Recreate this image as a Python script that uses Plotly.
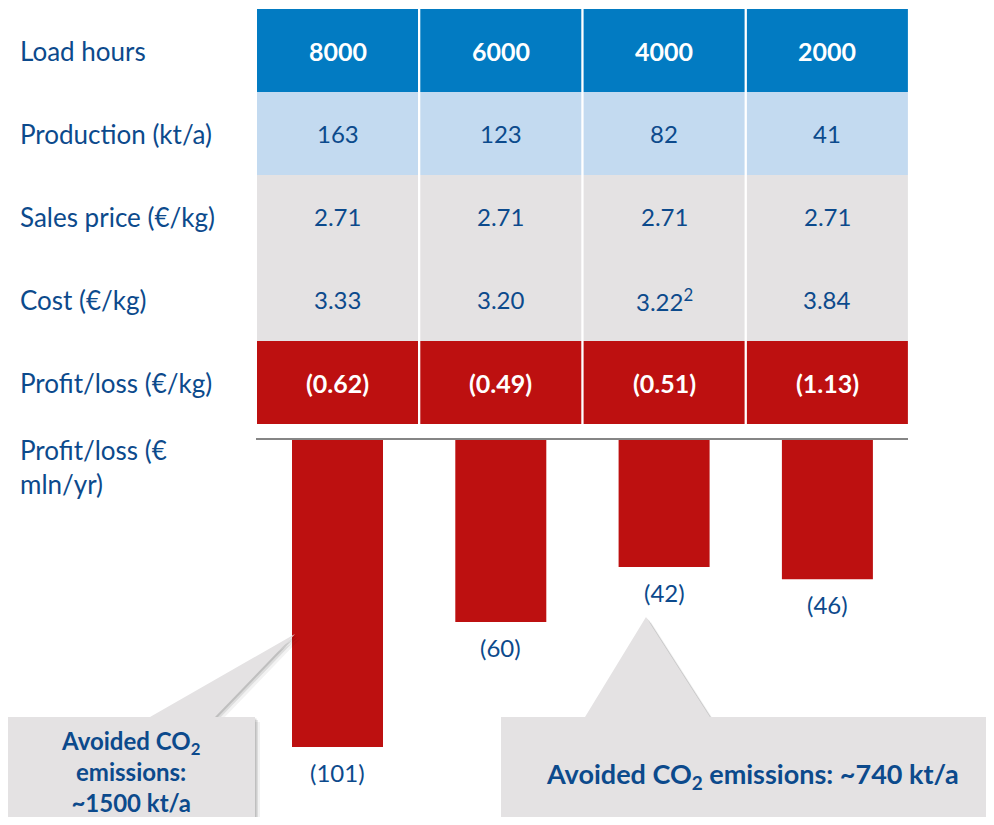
import plotly.graph_objects as go

# ---- data ----
load_hours = ["8000", "6000", "4000", "2000"]
production = ["163", "123", "82", "41"]
sales_price = ["2.71", "2.71", "2.71", "2.71"]
cost = ["3.33", "3.20", "3.22<sup>2</sup>", "3.84"]
profit_kg = ["(0.62)", "(0.49)", "(0.51)", "(1.13)"]
profit_mln = [-101, -60, -42, -46]
profit_mln_labels = ["(101)", "(60)", "(42)", "(46)"]
row_labels = ["Load hours", "Production (kt/a)", "Sales price (€/kg)", "Cost (€/kg)",
              "Profit/loss (€/kg)", "Profit/loss (€<br>mln/yr)"]
callout_left = "Avoided CO<sub>2</sub><br>emissions:<br>~1500 kt/a"
callout_right = "Avoided CO<sub>2</sub> emissions: ~740 kt/a"

# page geometry: the figure sits at the body's default 8px margin
OFF = 8
VW, VH = 994, 825
W, H = VW - 2 * OFF, VH - 2 * OFF
FONT = "Lato"
DARK = "#0C4A8C"
BLUE = "#027BC2"
LIGHT = "#C3DAF0"
GRAY = "#E4E2E3"
RED = "#BD1010"

def px(x):
    return (x - OFF) / W

def py(y):
    return 1 - (y - OFF) / H

# axes geometry (screen pixel mapping)
pitch = 163.3
c0 = 337.5
x0 = -(c0 - OFF) / pitch
x1 = x0 + W / pitch
ppu = 3.05
base = 439
y1 = (base - OFF) / ppu
y0 = -(OFF + H - base) / ppu

fig = go.Figure()
fig.add_trace(go.Bar(
    x=list(range(len(profit_mln))), y=profit_mln, width=91 / pitch,
    marker=dict(color=RED, line=dict(width=0)), hoverinfo="skip"))

shapes = []
annotations = []

# table rows: (values, fill, text colour, bold)
rows = [
    (load_hours, BLUE, "white", True),
    (production, LIGHT, DARK, False),
    (sales_price, GRAY, DARK, False),
    (cost, GRAY, DARK, False),
    (profit_kg, RED, "white", True),
]
row_top = 9
row_h = 83
half = 80.5 / pitch
for r, (vals, fill, tcol, bold) in enumerate(rows):
    ytop = row_top + r * row_h
    ybot = ytop + row_h
    for i, v in enumerate(vals):
        shapes.append(dict(type="rect", xref="x", yref="paper",
                           x0=i - half, x1=i + half, y0=py(ybot), y1=py(ytop),
                           fillcolor=fill, line=dict(width=0), layer="below"))
        txt = f"<b>{v}</b>" if bold else v
        annotations.append(dict(x=i, y=py((ytop + ybot) / 2), xref="x", yref="paper",
                                text=txt, showarrow=False, xanchor="center", yanchor="middle",
                                font=dict(family=FONT, size=25 if bold else 24, color=tcol)))

# row labels
label_y = [51, 134, 217, 300, 383]
for lbl, yy in zip(row_labels[:5], label_y):
    annotations.append(dict(x=px(18), y=py(yy), xref="paper", yref="paper", text=lbl,
                            showarrow=False, xanchor="left", yanchor="middle",
                            font=dict(family=FONT, size=26, color=DARK)))
annotations.append(dict(x=px(18), y=py(432), xref="paper", yref="paper", text=row_labels[5],
                        showarrow=False, xanchor="left", yanchor="top", align="left",
                        font=dict(family=FONT, size=26, color=DARK)))

# baseline
shapes.append(dict(type="line", xref="paper", yref="y", x0=px(256), x1=px(908), y0=0, y1=0,
                   line=dict(color="#858585", width=2)))

# bar labels
for i, (v, lbl) in enumerate(zip(profit_mln, profit_mln_labels)):
    annotations.append(dict(x=i, y=v, xref="x", yref="y", text=lbl, showarrow=False,
                            xanchor="center", yanchor="middle", yshift=-25,
                            font=dict(family=FONT, size=24, color=DARK)))

# callouts
def path(pts):
    return "M " + " L ".join(f"{px(x)},{py(y)}" for x, y in pts) + " Z"

left_pts = [(5, 717), (150, 717), (295, 634), (215, 717), (255, 717), (255, 840), (5, 840)]
right_pts = [(501, 717), (585, 717), (646, 617), (710, 717), (1010, 717), (1010, 840), (501, 840)]
for pts in (left_pts, right_pts):
    for d, op in ((5, 0.05), (3, 0.09), (1.5, 0.13)):
        shifted = [(x + d, y + d) for x, y in pts]
        shapes.append(dict(type="path", xref="paper", yref="paper", path=path(shifted),
                           fillcolor=f"rgba(0,0,0,{op})", line=dict(width=0)))
    shapes.append(dict(type="path", xref="paper", yref="paper", path=path(pts),
                       fillcolor=GRAY, line=dict(width=0)))

annotations.append(dict(x=px(130), y=py(771), xref="paper", yref="paper",
                        text=f"<b>{callout_left}</b>", showarrow=False,
                        xanchor="center", yanchor="middle", align="center",
                        font=dict(family=FONT, size=24, color=DARK)))
annotations.append(dict(x=px(752), y=py(775), xref="paper", yref="paper",
                        text=f"<b>{callout_right}</b>", showarrow=False,
                        xanchor="center", yanchor="middle", align="center",
                        font=dict(family=FONT, size=27, color=DARK)))

fig.update_layout(
    width=W, height=H, margin=dict(l=0, r=0, t=0, b=0),
    paper_bgcolor="white", plot_bgcolor="white", showlegend=False,
    xaxis=dict(range=[x0, x1], visible=False, fixedrange=True),
    yaxis=dict(range=[y0, y1], visible=False, fixedrange=True),
    shapes=shapes, annotations=annotations,
)
fig.write_html("out.html")
